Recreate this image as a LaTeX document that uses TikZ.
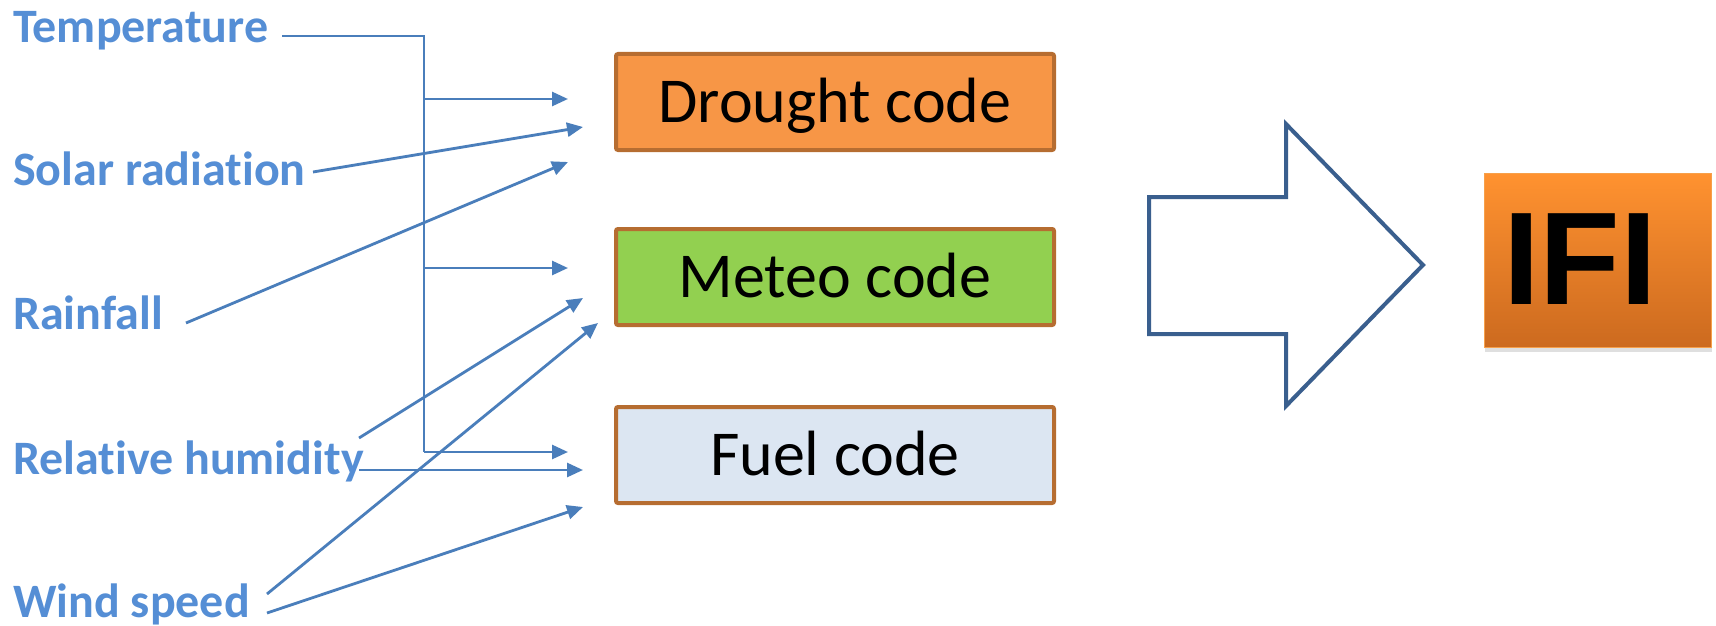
\documentclass[tikz,border=0pt]{standalone}
\usepackage{fontspec}
\setmainfont{Carlito}[Ligatures={NoCommon,NoContextual}]
\newfontfamily\ififont{Liberation Sans}
\usetikzlibrary{arrows.meta,shadows}
\definecolor{labelblue}{HTML}{558ED5}
\definecolor{connblue}{HTML}{4A7EBB}
\definecolor{boxborder}{HTML}{B66D31}
\definecolor{droughtfill}{HTML}{F79646}
\definecolor{meteofill}{HTML}{92D050}
\definecolor{fuelfill}{HTML}{DCE6F2}
\definecolor{arrowblue}{HTML}{3A5F8E}
\definecolor{ifitop}{HTML}{FF9230}
\definecolor{ifibot}{HTML}{CC6A1F}
\definecolor{ifiedge}{HTML}{F7A04A}
\begin{document}
\begin{tikzpicture}[x=1pt,y=-1pt,
  lbl/.style={anchor=base west, inner sep=0pt, text=labelblue, font=\bfseries\fontsize{48}{52}\selectfont},
  codebox/.style={draw=boxborder, line width=4pt, rounded corners=2pt, minimum width=438pt, minimum height=96pt, text height=41pt, text depth=0pt, inner sep=0pt, font=\fontsize{64}{70}\selectfont, anchor=north west},
  conn/.style={draw=connblue, line width=2.8pt, -{Triangle[length=16pt,width=14pt]}},
  plain/.style={draw=connblue, line width=2.8pt},
  bigarrow/.style={draw=arrowblue, line width=4pt, fill=white, line join=miter},
  ifibox/.style={draw=ifiedge, line width=1.2pt, top color=ifitop, bottom color=ifibot, minimum width=227pt, minimum height=174pt, inner sep=0pt, anchor=north west, drop shadow={opacity=0.25, shadow xshift=0pt, shadow yshift=-4pt}},
  ifitxt/.style={anchor=base, inner sep=0pt, font=\ififont\bfseries\fontsize{132}{134}\selectfont},
]
\useasboundingbox (0,0) rectangle (1716,626);

% labels
\node[lbl] (temp) at (13,43) {Temperature};
\node[lbl] (solar) at (13,185) {Solar radiat\kern0pt ion};
\node[lbl] (rain) at (13,329) {Rainfall};
\node[lbl] (rh) at (13,474) {Relat\kern0pt ive humidity};
\node[lbl] (wind) at (13,617) {Wind speed};

% boxes
\node[codebox, fill=droughtfill] (drought) at (614,52) {Drought code};
\node[codebox, fill=meteofill] (meteo) at (614,227) {Meteo code};
\node[codebox, fill=fuelfill] (fuel) at (614,405) {Fuel code};

% connector points
\coordinate (tS) at (282,36);
\coordinate (tJ) at (424,36);
\coordinate (tB1) at (424,99);
\coordinate (tB2) at (424,268);
\coordinate (tB3) at (424,452);
\coordinate (dA) at (568,99);
\coordinate (dB) at (583,127);
\coordinate (dC) at (568,162);
\coordinate (mA) at (568,268);
\coordinate (mB) at (583,298);
\coordinate (mC) at (598,323);
\coordinate (fA) at (568,452);
\coordinate (fB) at (583,470);
\coordinate (fC) at (583,507);
\coordinate (sS) at (313,172);
\coordinate (rS) at (186,323);
\coordinate (hS1) at (359,438);
\coordinate (hS2) at (359,470);
\coordinate (wS1) at (267,594);
\coordinate (wS2) at (267,613);

% temperature trunk
\draw[plain, line join=miter] (tS) -- (tJ) -- (tB3);
\draw[conn] (tB1) -- (dA);
\draw[conn] (tB2) -- (mA);
\draw[conn] (tB3) -- (fA);
% others
\draw[conn] (sS) -- (dB);
\draw[conn] (rS) -- (dC);
\draw[conn] (hS1) -- (mB);
\draw[conn] (hS2) -- (fB);
\draw[conn] (wS1) -- (mC);
\draw[conn] (wS2) -- (fC);

% big arrow
\draw[bigarrow] (1149,197) -- (1286,197) -- (1286,124) -- (1423,265) -- (1286,406) -- (1286,334) -- (1149,334) -- cycle;

% IFI
\node[ifibox] (ifi) at (1484,173) {};
\node[ifitxt] (ifitext) at (1580,304) {IFI};
\end{tikzpicture}
\end{document}
